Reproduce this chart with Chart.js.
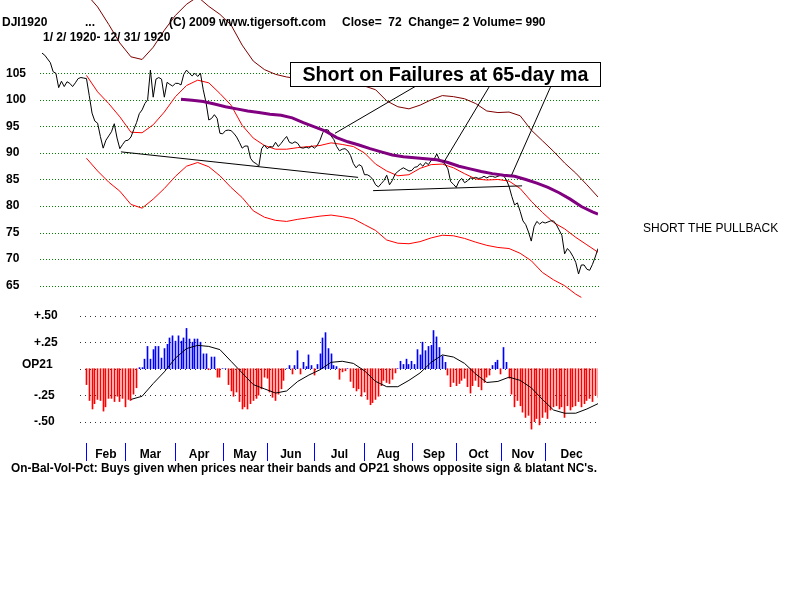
<!DOCTYPE html>
<html>
<head>
<meta charset="utf-8">
<script src="https://cdn.jsdelivr.net/npm/chart.js@4.4.1/dist/chart.umd.min.js"></script>
<style>
    html, body { margin: 0; padding: 0; background: #fff; }
    #wrap { position: relative; width: 800px; height: 600px; }
    canvas { display: block; }
</style>
</head>
<body>
<div id="wrap"><canvas id="chart" width="800" height="600"></canvas></div>
<script>
// x axis = trading session index (0 = Jan 2, 200 = Dec 31)
const priceClose = [
    108.8, 108.4, 107.7, 107.0, 105.3, 105.0, 102.3, 103.5, 102.5, 103.4,
    103.1, 102.5, 103.2, 104.0, 104.2, 104.1, 104.0, 100.8, 97.5, 96.0,
    95.6, 93.1, 90.9, 92.4, 93.2, 94.0, 95.5, 92.8, 90.8, 91.6,
    92.3, 92.4, 93.0, 94.4, 95.7, 97.4, 98.1, 99.3, 100.0, 105.6,
    100.5, 103.9, 104.2, 103.9, 100.5, 103.3, 102.9, 102.6, 103.1, 103.1,
    102.8, 104.8, 105.6, 105.0, 104.5, 105.0, 104.4, 105.0, 101.9, 99.5,
    96.2, 96.5, 97.2, 96.5, 93.7, 93.6, 94.2, 94.3, 94.2, 93.7,
    93.0, 92.0, 90.9, 91.3, 91.3, 89.0, 88.3, 88.0, 87.5, 90.8,
    91.5, 90.8, 91.2, 91.1, 92.0, 91.2, 91.8, 92.5, 93.1, 92.0,
    91.8, 92.1, 91.8, 91.0, 90.9, 91.1, 90.9, 91.3, 90.9, 91.4,
    92.4, 93.8, 94.4, 94.3, 93.2, 92.5, 91.2, 90.4, 90.7, 90.8,
    90.4, 89.5, 88.0, 87.2, 87.8, 87.5, 85.9, 85.9, 85.6, 85.0,
    84.0, 83.6, 84.2, 84.8, 85.8, 84.0, 84.8, 86.0, 86.5, 86.9,
    87.2, 86.9, 86.6, 86.7, 87.3, 87.4, 88.0, 87.5, 88.2, 87.8,
    88.6, 88.8, 89.8, 88.7, 88.3, 87.9, 87.0, 84.6, 84.1, 83.5,
    84.7, 85.2, 84.4, 84.7, 85.3, 85.2, 85.4, 85.2, 85.3, 85.6,
    85.3, 85.6, 85.6, 85.4, 85.6, 85.8, 85.7, 85.0, 83.7, 81.8,
    80.2, 80.6, 79.0, 77.2, 76.5, 75.1, 73.4, 76.1, 77.1, 76.6,
    77.0, 76.8, 77.0, 77.2, 77.2, 76.5, 75.5, 74.5, 71.0, 72.0,
    71.4, 70.5, 69.4, 67.2, 68.9, 68.9, 68.1, 67.9, 69.0, 70.4,
    72.0
];

const bandDays = [
    16, 20, 24, 28, 32, 36, 40, 44, 48, 52, 56, 60, 64, 68, 72, 76,
    80, 84, 88, 92, 96, 100, 104, 108, 112, 116, 120, 124, 128, 132, 136, 140,
    144, 148, 152, 156, 160, 164, 168, 172, 176, 180, 184, 188, 192, 196, 200
];
const upperBand = [
    104.6, 101.5, 99.3, 96.8, 93.9, 93.8, 95.3, 97.7, 100.6, 102.7, 103.7, 103.2, 101.2, 99.0, 95.2, 92.8,
    91.4, 90.7, 90.7, 91.0, 91.2, 91.4, 91.9, 91.6, 91.2, 90.0, 87.9, 86.6, 85.7, 85.9, 87.1, 87.8,
    87.9, 87.2, 86.1, 85.1, 84.9, 85.0, 84.7, 83.3, 80.9, 78.8, 76.9, 75.7, 74.1, 72.7, 71.3
];
const outerBand = [
    119.9, 117.5, 114.2, 110.7, 108.1, 107.6, 109.9, 113.1, 115.9, 118.0, 119.4, 117.6, 116.1, 114.1, 110.3, 107.3,
    105.7, 104.8, 104.3, 104.0, 103.8, 103.7, 103.5, 103.2, 102.9, 102.6, 101.9, 99.8, 98.7, 98.3, 99.0, 100.0,
    100.8, 100.6, 100.2, 99.3, 97.9, 97.6, 97.7, 97.0, 94.3, 92.3, 90.3, 88.1, 86.2, 84.0, 81.7
];

const lowerDays = [
    16, 20, 24, 28, 32, 36, 40, 44, 48, 52, 56, 60, 64, 68, 72, 76,
    80, 84, 88, 92, 96, 100, 104, 108, 112, 116, 120, 124, 128, 132, 136, 140,
    144, 148, 152, 156, 160, 164, 168, 172, 176, 180, 184, 188, 192, 194
];
const lowerBand = [
    89.0, 86.6, 84.5, 82.8, 80.3, 79.6, 81.3, 83.3, 85.6, 87.5, 88.2, 87.4, 85.7, 83.5, 81.6, 79.1,
    77.9, 77.3, 77.1, 77.5, 77.8, 78.1, 78.3, 78.0, 77.6, 76.5, 75.4, 73.6, 73.0, 72.9, 73.3, 74.0,
    74.5, 74.4, 73.9, 73.2, 72.6, 72.2, 72.0, 71.1, 69.7, 67.5, 66.1, 65.0, 63.4, 62.8
];

const ma65Days = [
    50, 54, 58, 62, 66, 70, 74, 78, 82, 86, 90, 94, 98, 102, 106, 110,
    114, 118, 122, 126, 130, 134, 138, 142, 146, 150, 154, 158, 162, 166, 170, 174,
    178, 182, 186, 190, 194, 198, 200
];
const ma65 = [
    100.1, 99.9, 99.7, 99.2, 98.7, 98.3, 97.9, 97.6, 97.3, 97.1, 96.6, 95.7, 94.9, 94.1, 92.9, 92.1,
    91.5, 90.8, 90.2, 89.6, 89.3, 89.1, 88.9, 88.7, 88.2, 87.5, 87.0, 86.5, 86.1, 85.8, 85.6, 85.0,
    84.3, 83.5, 82.5, 81.3, 79.9, 78.9, 78.5
];

// hand-drawn support lines and pointers: [day1, price1, day2, price2]
const supportLines = [
    [28.4, 90.2, 113.7, 85.4],
    [119.1, 82.9, 172.7, 83.8]
];
const pointerLines = [
    [105.4, 93.7, 134.2, 102.5],
    [144.6, 88.3, 160.8, 102.4],
    [168.9, 85.8, 182.9, 102.4]
];

// OP21 daily values from session 16 to 200
const op21Start = 16;
const op21 = [
    -0.15, -0.30, -0.38, -0.33, -0.29, -0.30, -0.40, -0.36, -0.28, -0.28, -0.31, -0.26, -0.31, -0.28, -0.36, -0.29,
    -0.30, -0.24, -0.18, 0.01, 0.01, 0.09, 0.21, 0.09, 0.18, 0.21, 0.21, 0.10, 0.19, 0.23, 0.29, 0.31,
    0.26, 0.31, 0.26, 0.29, 0.38, 0.28, 0.25, 0.28, 0.28, 0.25, 0.14, 0.14, -0.01, 0.11, 0.11, -0.08,
    -0.08, 0, 0, -0.15, -0.21, -0.26, -0.22, -0.31, -0.38, -0.36, -0.38, -0.33, -0.30, -0.28, -0.25, -0.19,
    -0.08, -0.09, -0.22, -0.27, -0.30, -0.24, -0.19, -0.11, 0, 0.03, -0.05, 0.03, 0.17, -0.05, 0.06, 0.02,
    0.13, 0.03, -0.06, 0.04, 0.14, 0.29, 0.34, 0.19, 0.14, 0.03, 0.02, -0.10, -0.03, -0.02, 0, -0.12,
    -0.18, -0.21, -0.19, -0.26, -0.22, -0.29, -0.34, -0.32, -0.29, -0.26, -0.16, -0.11, -0.13, -0.14, -0.10, -0.04,
    0, 0.07, 0.04, 0.09, 0.04, 0.07, 0.04, 0.18, 0.13, 0.25, 0.17, 0.21, 0.22, 0.36, 0.30, 0.20,
    0.12, 0.06, -0.06, -0.17, -0.13, -0.16, -0.14, -0.11, -0.09, -0.17, -0.23, -0.16, -0.11, -0.17, -0.20, -0.13,
    -0.08, -0.06, 0.03, 0.06, 0.08, -0.05, 0.20, 0.06, -0.09, -0.24, -0.36, -0.30, -0.35, -0.41, -0.46, -0.44,
    -0.57, -0.50, -0.47, -0.53, -0.46, -0.41, -0.47, -0.39, -0.36, -0.35, -0.38, -0.36, -0.46, -0.35, -0.39, -0.36,
    -0.35, -0.31, -0.36, -0.33, -0.30, -0.28, -0.31, -0.25, -0.27
];
const op21MaDays = [
    32, 36, 40, 44, 48, 52, 56, 60, 64, 68, 72, 76, 80, 84, 88, 92,
    96, 100, 104, 108, 112, 116, 120, 124, 128, 132, 136, 140, 144, 148, 152, 156,
    160, 164, 168, 172, 176, 180, 184, 188, 192, 196, 200
];
const op21Ma = [
    -0.29, -0.26, -0.14, -0.03, 0.10, 0.19, 0.22, 0.21, 0.18, 0.07, -0.04, -0.15, -0.19, -0.23, -0.21, -0.12,
    -0.06, -0.01, 0.06, 0.07, 0.05, -0.02, -0.12, -0.17, -0.17, -0.11, -0.04, 0.06, 0.13, 0.11, 0.05, -0.05,
    -0.13, -0.12, -0.08, -0.11, -0.18, -0.29, -0.39, -0.42, -0.42, -0.38, -0.33
];

const priceTicks = [105, 100, 95, 90, 85, 80, 75, 70, 65];
const opTicks = [0.5, 0.25, 0, -0.25, -0.5];
const opTickLabels = ['+.50', '+.25', 'OP21', '-.25', '-.50'];
const monthStarts = [16, 30, 48, 65, 81, 98, 116, 133, 149, 165, 181];
const monthNames = ['Feb', 'Mar', 'Apr', 'May', 'Jun', 'Jul', 'Aug', 'Sep', 'Oct', 'Nov', 'Dec'];
const lastDay = 200;

const FONT = 'bold 12px "Liberation Sans", Arial, sans-serif';
const RED = '#ff0000';
const BLUE = '#0000ff';

const pairs = (xs, ys) => xs.map((x, i) => ({ x, y: ys[i] }));
const segment = s => [{ x: s[0], y: s[1] }, { x: s[2], y: s[3] }];

function lineSet(data, color, width, order, axis) {
    return {
        type: 'line',
        data,
        yAxisID: axis || 'y',
        borderColor: color,
        borderWidth: width,
        pointRadius: 0,
        tension: 0,
        fill: false,
        order
    };
}

const decor = {
    id: 'decor',
    beforeDraw(chart) {
        const ctx = chart.ctx;
        ctx.save();
        ctx.fillStyle = '#fff';
        ctx.fillRect(0, 0, chart.width, chart.height);
        ctx.restore();
    },
    beforeDatasetsDraw(chart) {
        const { ctx, scales } = chart;
        // snap the 1px histogram bars onto whole pixels so they stay crisp
        chart.getDatasetMeta(0).data.forEach(bar => {
            bar.x = Math.floor(bar.x) + 0.5;
            bar.width = 1;
        });
        ctx.save();
        ctx.lineWidth = 1;
        ctx.setLineDash([1, 2]);
        ctx.strokeStyle = '#008000';
        priceTicks.forEach(v => {
            const y = Math.round(scales.y.getPixelForValue(v)) + 0.5;
            ctx.beginPath();
            ctx.moveTo(40, y);
            ctx.lineTo(600, y);
            ctx.stroke();
        });
        ctx.setLineDash([1, 4]);
        ctx.strokeStyle = '#333';
        opTicks.forEach(v => {
            const y = Math.round(scales.op.getPixelForValue(v)) + 0.5;
            ctx.beginPath();
            ctx.moveTo(80, y);
            ctx.lineTo(600, y);
            ctx.stroke();
        });
        ctx.restore();
    },
    afterDatasetsDraw(chart) {
        const { ctx, scales } = chart;
        ctx.save();

        // callout box
        ctx.fillStyle = '#fff';
        ctx.fillRect(290, 62, 311, 25);
        ctx.strokeStyle = '#000';
        ctx.lineWidth = 1;
        ctx.strokeRect(290.5, 62.5, 310, 24);
        ctx.fillStyle = '#000';
        ctx.font = 'bold 20px "Liberation Sans", Arial, sans-serif';
        ctx.textAlign = 'center';
        ctx.textBaseline = 'middle';
        ctx.fillText('Short on Failures at 65-day ma', 445.5, 75, 286);

        // header
        ctx.font = FONT;
        ctx.textAlign = 'left';
        ctx.fillText('DJI1920', 2, 23);
        ctx.fillText('...', 85, 23);
        ctx.fillText('(C) 2009 www.tigersoft.com', 169, 23);
        ctx.fillText('Close=  72  Change= 2 Volume= 990', 342, 23);
        ctx.fillText('1/ 2/ 1920- 12/ 31/ 1920', 43, 38);

        // price labels
        priceTicks.forEach(v => {
            ctx.fillText(String(v), 6, scales.y.getPixelForValue(v));
        });
        // op21 labels
        opTicks.forEach((v, i) => {
            const lbl = opTickLabels[i];
            const x = lbl === 'OP21' ? 22 : 34;
            const dy = lbl === 'OP21' ? -4 : 0;
            ctx.fillText(lbl, x, scales.op.getPixelForValue(v) + dy);
        });

        // month ticks + names
        ctx.strokeStyle = BLUE;
        monthStarts.forEach((d, i) => {
            const x = Math.round(scales.x.getPixelForValue(d)) + 0.5;
            ctx.beginPath();
            ctx.moveTo(x, 443);
            ctx.lineTo(x, 461);
            ctx.stroke();
            const next = i + 1 < monthStarts.length ? monthStarts[i + 1] : lastDay;
            const cx = (scales.x.getPixelForValue(d) + scales.x.getPixelForValue(next)) / 2;
            ctx.textAlign = 'center';
            ctx.fillText(monthNames[i], cx, 455);
        });

        ctx.textAlign = 'left';
        ctx.fillText("On-Bal-Vol-Pct: Buys given when prices near their bands and OP21 shows opposite sign & blatant NC's.", 11, 469, 586);
        ctx.font = '12px "Liberation Sans", Arial, sans-serif';
        ctx.fillText('SHORT THE PULLBACK', 643, 229);
        ctx.restore();
    }
};

const datasets = [
    {
        type: 'bar',
        data: op21.map((v, i) => ({ x: op21Start + i, y: v })),
        yAxisID: 'op',
        backgroundColor: c => (c.raw && c.raw.y >= 0 ? BLUE : RED),
        barThickness: 1,
        borderWidth: 0,
        order: 9
    },
    lineSet(pairs(op21MaDays, op21Ma), '#000', 1, 1, 'op'),
    lineSet(pairs(bandDays, outerBand), '#800000', 1, 8),
    lineSet(pairs(bandDays, upperBand), RED, 1, 7),
    lineSet(pairs(lowerDays, lowerBand), RED, 1, 7),
    lineSet(priceClose.map((v, i) => ({ x: i, y: v })), '#000', 1, 5),
    lineSet(pairs(ma65Days, ma65), '#800080', 3, 4),
    ...supportLines.map(s => lineSet(segment(s), '#000', 1, 3)),
    ...pointerLines.map(s => lineSet(segment(s), '#000', 1, 3))
];

new Chart(document.getElementById('chart'), {
    type: 'line',
    data: { datasets },
    options: {
        responsive: false,
        animation: false,
        events: [],
        layout: { padding: { left: 42, right: 202, top: 0, bottom: 0 } },
        plugins: { legend: { display: false }, tooltip: { enabled: false } },
        scales: {
            x: { type: 'linear', min: 0, max: lastDay, offset: false, display: false },
            y: { type: 'linear', min: 5.81, max: 118.8, display: false },
            op: { type: 'linear', min: -2.182, max: 3.478, display: false }
        }
    },
    plugins: [decor]
});
</script>
</body>
</html>
